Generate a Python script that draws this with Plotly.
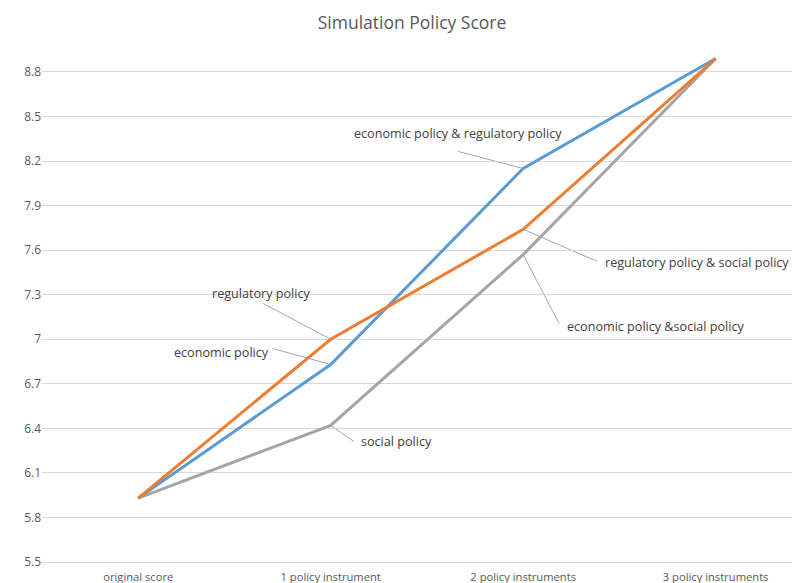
import plotly.graph_objects as go

categories = ["original score", "1 policy instrument", "2 policy instruments", "3 policy instruments"]
blue_vals = [5.93, 6.83, 8.15, 8.89]
orange_vals = [5.93, 7.00, 7.74, 8.89]
grey_vals = [5.93, 6.42, 7.57, 8.89]
y_ticks = [5.5, 5.8, 6.1, 6.4, 6.7, 7.0, 7.3, 7.6, 7.9, 8.2, 8.5, 8.8]
y_tick_text = ["5.5", "5.8", "6.1", "6.4", "6.7", "7", "7.3", "7.6", "7.9", "8.2", "8.5", "8.8"]

BLUE = "#5B9BD5"
ORANGE = "#ED7D31"
GREY = "#A5A5A5"
FONT = "Open Sans"
xs = list(range(len(categories)))

fig = go.Figure()
for vals, col in [(grey_vals, GREY), (blue_vals, BLUE), (orange_vals, ORANGE)]:
    fig.add_trace(go.Scatter(x=xs, y=vals, mode="lines",
                             line=dict(color=col, width=3), showlegend=False,
                             hoverinfo="skip"))

# labels: (text, series, index, leader dx, leader dy (px, up +), text xshift, yshift, xanchor)
labels = [
    ("economic policy & regulatory policy", blue_vals, 2, -65, 17, -65, 35, "center"),
    ("regulatory policy & social policy", orange_vals, 2, 74, -32, 80, -33, "left"),
    ("economic policy &social policy", grey_vals, 2, 36, -69, 42, -72, "left"),
    ("regulatory policy", orange_vals, 1, -68, 36, -70, 46, "center"),
    ("economic policy", blue_vals, 1, -58, 16, -109, 12, "center"),
    ("social policy", grey_vals, 1, 23, -16, 28, -16, "left"),
]
for text, vals, i, dx, dy, xs_, ys_, xa in labels:
    fig.add_shape(type="line", xref="x", yref="y",
                  xsizemode="pixel", ysizemode="pixel",
                  xanchor=i, yanchor=vals[i],
                  x0=0, x1=dx, y0=0, y1=dy,
                  line=dict(color="#A6A6A6", width=1), layer="below")
    fig.add_annotation(x=i, y=vals[i], text=text, showarrow=False,
                       xshift=xs_, yshift=ys_, xanchor=xa, yanchor="middle",
                       font=dict(family=FONT, size=12.6, color="#404040"))

fig.update_layout(
    width=800, height=583,
    margin=dict(l=34, r=0, t=32, b=29),
    paper_bgcolor="white", plot_bgcolor="white",
    title=dict(text="Simulation Policy Score", x=0.505, xanchor="center",
               y=1 - 15 / 583, yanchor="middle", xref="container", yref="container",
               font=dict(family=FONT, size=17.5, color="#595959")),
    font=dict(family=FONT, color="#595959"),
)
fig.update_xaxes(range=[-0.5, 3.48], tickvals=xs, ticktext=categories,
                 showgrid=False, showline=True, linecolor="#D9D9D9", linewidth=1,
                 ticks="", ticklabelstandoff=5,
                 tickfont=dict(family=FONT, size=11.2, color="#595959"),
                 zeroline=False, fixedrange=True)
fig.update_yaxes(range=[5.5, 9.015], tickvals=y_ticks, ticktext=y_tick_text,
                 showgrid=True, gridcolor="#D9D9D9", gridwidth=1,
                 ticks="", ticklen=0, tickfont=dict(family=FONT, size=12, color="#595959"),
                 zeroline=False, showline=False, fixedrange=True)

fig.write_html("out.html")
